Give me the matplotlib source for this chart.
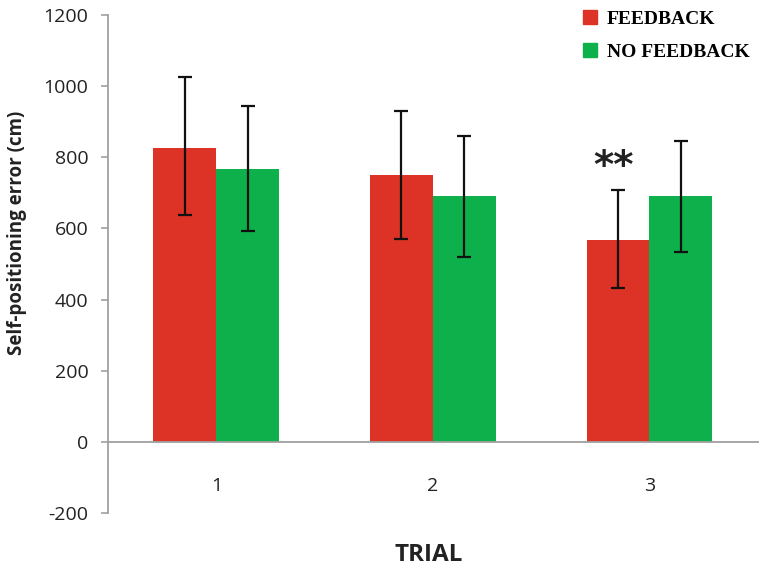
import matplotlib

matplotlib.use("Agg")
import matplotlib.pyplot as plt
import numpy as np
from matplotlib.patches import Patch

trials = ["1", "2", "3"]
feedback = [827, 750, 568]
feedback_hi = [1026, 930, 707]
feedback_lo = [637, 570, 432]
no_feedback = [768, 690, 692]
no_feedback_hi = [945, 860, 847]
no_feedback_lo = [594, 520, 535]
yticks = [-200, 0, 200, 400, 600, 800, 1000, 1200]

RED = "#dc3326"
GREEN = "#0db04b"
GRAY = "#a0a0a0"
TXT = "#222222"

plt.rcParams["font.family"] = ["Open Sans", "DejaVu Sans"]
plt.rcParams["axes.unicode_minus"] = False

fig = plt.figure(figsize=(7.66, 5.69), dpi=100)
ax = fig.add_axes([0.141, 0.0984, 0.848, 0.8752])

x = np.arange(len(trials))
w = 0.29
fb_err = [np.subtract(feedback, feedback_lo), np.subtract(feedback_hi, feedback)]
nf_err = [np.subtract(no_feedback, no_feedback_lo), np.subtract(no_feedback_hi, no_feedback)]
ekw = dict(ecolor="#111111", elinewidth=1.6, capthick=1.6, capsize=5)
ax.bar(x - w / 2, feedback, w, color=RED, yerr=fb_err, error_kw=ekw, zorder=2)
ax.bar(x + w / 2, no_feedback, w, color=GREEN, yerr=nf_err, error_kw=ekw, zorder=2)

# significance marker over trial 3 feedback
ax.text(x[2] - w / 2 - 0.02, feedback_hi[2] + 65, "**", ha="center", va="center",
        fontsize=28, fontweight="bold", color=TXT, family="DejaVu Sans")

ax.set_xlim(-0.5, 2.5)
ax.set_ylim(-200, 1200)
ax.set_yticks(yticks, [str(t) for t in yticks])
ax.set_xticks(x, trials)
ax.tick_params(axis="x", length=0, pad=25, labelsize=14, labelcolor=TXT)
ax.tick_params(axis="y", length=5, color=GRAY, width=1.2, pad=9, labelsize=14, labelcolor=TXT)

for s in ("top", "right"):
    ax.spines[s].set_visible(False)
ax.spines["left"].set_color(GRAY)
ax.spines["left"].set_linewidth(1.3)
ax.spines["bottom"].set_position(("data", 0))
ax.spines["bottom"].set_color(GRAY)
ax.spines["bottom"].set_linewidth(1.3)

ax.set_ylabel("Self-positioning error (cm)", fontsize=13.5, fontweight="bold", color=TXT)
ax.yaxis.set_label_coords(-0.124, 0.562)
fig.text(0.559, 0.025, "TRIAL", ha="center", va="center", fontsize=17.5,
         fontweight="bold", color=TXT)

handles = [Patch(color=RED, label="FEEDBACK"), Patch(color=GREEN, label="NO FEEDBACK")]
ax.legend(handles=handles, loc="upper right", bbox_to_anchor=(1.015, 1.045),
          frameon=False, handlelength=0.75, handleheight=0.75, handletextpad=0.5,
          labelspacing=0.75, prop={"family": "Liberation Serif", "weight": "bold", "size": 14})

fig.savefig("out.png", dpi=100)
